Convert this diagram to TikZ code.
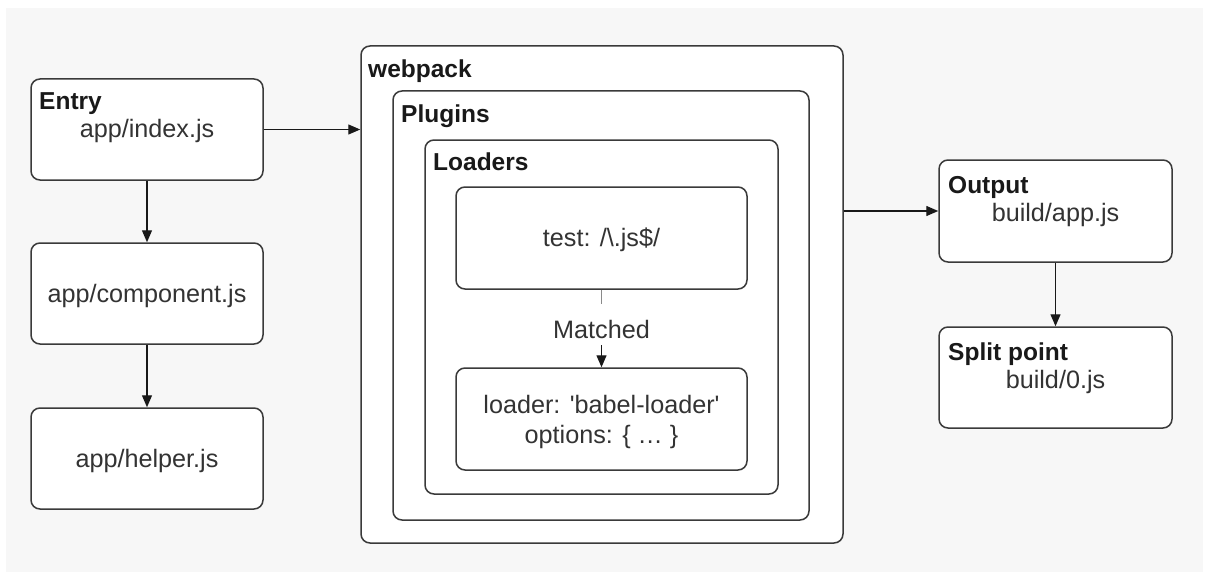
\documentclass[tikz,border=0pt]{standalone}
\usepackage{fontspec}
\setmainfont{Liberation Sans}
\usetikzlibrary{arrows.meta}
\definecolor{bg}{HTML}{F7F7F7}
\definecolor{edge}{HTML}{3A3A3A}
\definecolor{txt}{HTML}{333333}
\definecolor{faint}{HTML}{8A8A8A}
\begin{document}
\begin{tikzpicture}[x=1pt,y=-1pt,
  box/.style={draw=edge,line width=1.5pt,rounded corners=9pt,fill=white,inner sep=0pt,anchor=center},
  small/.style={box,minimum width=232pt,minimum height=101pt},
  title/.style={anchor=base west,inner sep=0pt,font=\fontsize{24.5}{28}\selectfont\bfseries,text=black!90},
  label/.style={anchor=base,inner sep=0pt,font=\fontsize{25.2}{29}\selectfont,text=txt},
  conn/.style={draw=black!90,line width=1.3pt,-{Triangle[width=10pt,length=12pt]}}]
\useasboundingbox (0,0) rectangle (1209,575);
\fill[white] (0,0) rectangle (1209,575);
\fill[bg] (6,8) rectangle (1203,572);

% left column
\node[small] (entry) at (147,129.5) {};
\node[small] (component) at (147,293.5) {};
\node[small] (helper) at (147,458.5) {};
\node[title] (entryT) at (39,110) {Entry};
\node[label] (entryL) at (147,138) {app/index.js};
\node[label] (componentL) at (147,302) {app/component.js};
\node[label] (helperL) at (147,467) {app/helper.js};

% webpack nest
\node[box,minimum width=482pt,minimum height=497pt] (webpack) at (602,294.5) {};
\node[box,minimum width=416pt,minimum height=429pt] (plugins) at (601,305.5) {};
\node[box,minimum width=353pt,minimum height=354pt] (loaders) at (601.5,317) {};
\node[title] (webpackT) at (368,78) {webpack};
\node[title] (pluginsT) at (401,122.5) {Plugins};
\node[title] (loadersT) at (433,170) {Loaders};
\node[box,minimum width=291pt,minimum height=102pt] (test) at (601.5,238) {};
\node[label] (testL) at (601.5,246.5) {test: /\textbackslash.js\$/};
\node[box,minimum width=291pt,minimum height=102pt] (loader) at (601.5,419) {};
\node[label] (loaderL1) at (601.5,413) {loader: \textquotesingle babel-loader\textquotesingle};
\node[label] (loaderL2) at (601.5,443) {options: \{ … \}};
\coordinate (matchTop) at (601.5,304);
\node[anchor=center,inner sep=0pt,minimum height=32pt,font=\fontsize{25.2}{29}\selectfont,text=txt] (matched) at (601.5,329) {Matched};

% right column
\node[box,minimum width=233pt,minimum height=102pt] (output) at (1055.5,211) {};
\node[box,minimum width=233pt,minimum height=101pt] (split) at (1055.5,377.5) {};
\node[title] (outputT) at (948,193) {Output};
\node[label] (outputL) at (1055.5,221.5) {build/app.js};
\node[title] (splitT) at (948,360) {Split point};
\node[label] (splitL) at (1055.5,388) {build/0.js};

% connectors
\draw[conn] (entry.east) -- (entry.east -| webpack.west);
\draw[conn] (entry.south) -- (component.north);
\draw[conn] (component.south) -- (helper.north);
\draw[conn] (output.west -| webpack.east) -- (output.west);
\draw[conn] (output.south) -- (split.north);
\draw[draw=faint,line width=1.4pt] (test.south) -- (matchTop);
\draw[conn] (matched.south) -- (loader.north);
\end{tikzpicture}
\end{document}
